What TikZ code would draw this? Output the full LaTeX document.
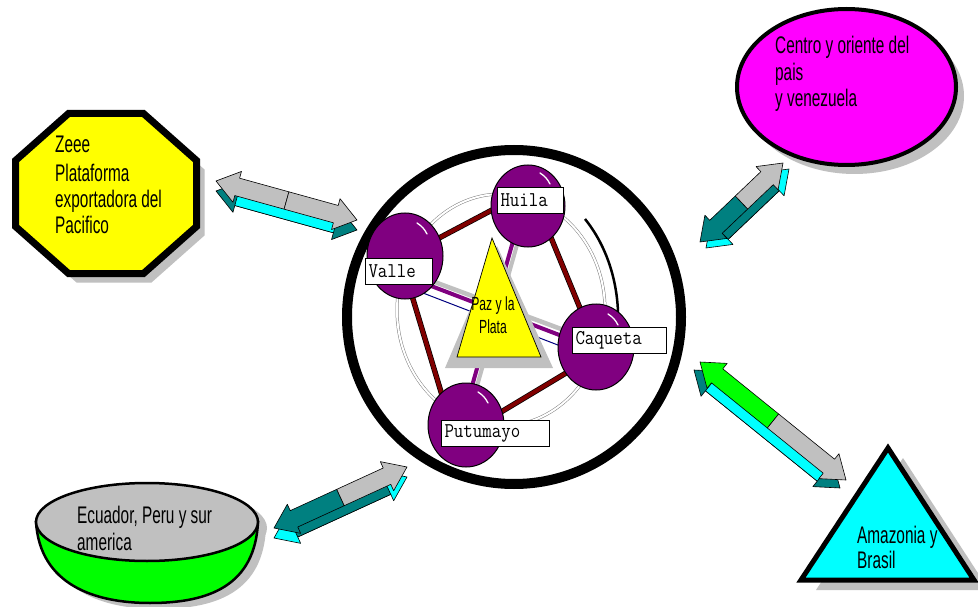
\documentclass[tikz,border=0pt]{standalone}
\usepackage{fontspec}
\usepackage{graphicx}
\newfontfamily\narrowfont[FakeStretch=0.64]{Liberation Sans}
\usetikzlibrary{calc,shapes.geometric}
\definecolor{yel}{HTML}{FFFF00}
\definecolor{mag}{HTML}{FF00FF}
\definecolor{shad}{HTML}{C0C0C0}
\definecolor{cyanc}{HTML}{00FFFF}
\definecolor{tealc}{HTML}{008080}
\definecolor{greenc}{HTML}{00FF00}
\definecolor{purp}{HTML}{800080}
\definecolor{maroonc}{HTML}{800000}
\definecolor{navyc}{HTML}{000080}
\newcommand\lbltext[1]{\scalebox{0.92}[1.05]{#1}}
\tikzset{
  arrowline/.style={draw=black, line width=0.6pt, line join=round},
  pcirc/.style={ellipse, draw=black, line width=1pt, fill=purp, inner sep=0pt},
  lbl/.style={draw=black, line width=1pt, fill=white, inner xsep=3pt, inner ysep=0pt,
    minimum height=26pt, anchor=north west, align=left, font=\fontsize{20}{20}\selectfont\ttfamily},
  edgem/.style={draw=black, double=maroonc, double distance=4pt, line width=0.7pt},
  bigtxt/.style={inner sep=0pt, anchor=north west, align=left, font=\fontsize{24}{26}\selectfont\narrowfont},
  hilite/.style={draw=white, line width=1.3pt, line cap=round},
}
\newcommand\blockarrow[7]{%
  \coordinate (ba-h1) at ($(#1)!22pt!(#2)$);
  \coordinate (ba-h2) at ($(#2)!22pt!(#1)$);
  \coordinate (ba-m) at ($(#1)!0.5!(#2)$);
  \coordinate (A1) at ($(ba-h1)!16pt!90:(#2)$);
  \coordinate (A2) at ($(ba-h1)!9pt!90:(#2)$);
  \coordinate (A3) at ($(ba-m)!9pt!90:(#2)$);
  \coordinate (A4) at ($(ba-h2)!9pt!-90:(#1)$);
  \coordinate (A5) at ($(ba-h2)!16pt!-90:(#1)$);
  \coordinate (B1) at ($(ba-h1)!16pt!-90:(#2)$);
  \coordinate (B2) at ($(ba-h1)!9pt!-90:(#2)$);
  \coordinate (B3) at ($(ba-m)!9pt!-90:(#2)$);
  \coordinate (B4) at ($(ba-h2)!9pt!90:(#1)$);
  \coordinate (B5) at ($(ba-h2)!16pt!90:(#1)$);
  \filldraw[fill=#6, arrowline] ($(#1)+#7$) -- ($(A1)+#7$) -- ($(A2)+#7$) -- ($(A4)+#7$) -- ($(A5)+#7$) -- ($(#2)+#7$) -- ($(B5)+#7$) -- ($(B4)+#7$) -- ($(B2)+#7$) -- ($(B1)+#7$) -- cycle;
  \filldraw[fill=#5, arrowline] ($(A2)+#7$) -- ($(A4)+#7$) -- ($(B4)+#7$) -- ($(B2)+#7$) -- cycle;
  \filldraw[fill=#3, arrowline] (#1) -- (A1) -- (A2) -- (A3) -- (B3) -- (B2) -- (B1) -- cycle;
  \filldraw[fill=#4, arrowline] (A3) -- (A4) -- (A5) -- (#2) -- (B5) -- (B4) -- (B3) -- cycle;
}
\begin{document}
\begin{tikzpicture}[x=1pt, y=-1pt]
\useasboundingbox[fill=white] (0,0) rectangle (978,607);

% ---------- Octagon (Zeee) ----------
\fill[shad] (151.5,122.5) -- (204.5,169.5) -- (204.5,235.5) -- (151.5,282.5) -- (76.5,282.5) -- (23.5,235.5) -- (23.5,169.5) -- (76.5,122.5) -- cycle;
\filldraw[fill=yel, draw=black, line width=7pt, line join=miter]
  (143.5,113.5) -- (196.5,160.5) -- (196.5,226.5) -- (143.5,273.5) -- (68.5,273.5) -- (15.5,226.5) -- (15.5,160.5) -- (68.5,113.5) -- cycle;
\node[bigtxt] (octtxt) at (55,136) {Zeee\\[3pt]Plataforma\\exportadora del\\Pacifico};

% ---------- Magenta ellipse ----------
\fill[shad] (854.5,96) ellipse[x radius=109.5pt, y radius=78pt];
\filldraw[fill=mag, draw=black, line width=4pt] (846.5,87) ellipse[x radius=109.5pt, y radius=78pt];
\node[bigtxt, font=\fontsize{24}{26.5}\selectfont\narrowfont] (centrotxt) at (775,36) {Centro y oriente del\\pais\\y venezuela};

% ---------- Bowl ----------
\fill[shad] (44,528) .. controls (48,591) and (103,609) .. (158,609) .. controls (218,609) and (263,591) .. (266,528) -- cycle;
\fill[shad] (155,528) ellipse[x radius=112pt, y radius=40pt];
\filldraw[fill=greenc, draw=black, line width=2.5pt] (36,522) .. controls (40,585) and (95,603) .. (150,603) .. controls (210,603) and (255,585) .. (258,522) -- cycle;
\filldraw[fill=shad, draw=black, line width=2.5pt] (147,522) ellipse[x radius=111pt, y radius=39pt];
\node[bigtxt, font=\fontsize{24}{27}\selectfont\narrowfont] (ecuadortxt) at (77,506) {Ecuador, Peru y sur\\america};

% ---------- Cyan triangle ----------
\fill[shad] (903,458) -- (816,590) -- (989,590) -- cycle;
\filldraw[fill=cyanc, draw=black, line width=5pt, line join=miter] (888,448) -- (801,580) -- (974,580) -- cycle;
\node[bigtxt, font=\fontsize{24}{25}\selectfont\narrowfont] (amazontxt) at (857,526) {Amazonia y\\Brasil};

% ---------- Big ring ----------
\draw[line width=10pt] (514,317) circle[radius=167pt];
\draw[gray, line width=0.5pt, double=white, double distance=2pt] (501,310) ellipse[x radius=104pt, y radius=116pt];
\draw[line width=2.5pt] (585,219) arc[start angle=45, end angle=-3, x radius=113pt, y radius=140pt];

% ---------- Purple node positions ----------
\coordinate (huilac) at (528,206);
\coordinate (vallec) at (405,256);
\coordinate (caquetac) at (596,347);
\coordinate (putumayoc) at (466,425);

% connectors behind the circles
\draw[purp, line width=4pt] ($(vallec)+(0,20)$) -- ($(caquetac)+(0,2)$);
\draw[shad, line width=4.5pt] ($(vallec)+(0,15)$) -- ($(caquetac)+(0,-5)$);
\draw[purp, line width=4pt] ($(huilac)+(-5,0)$) -- ($(putumayoc)+(-5,0)$);
\draw[shad, line width=4pt] (huilac) -- (putumayoc);
\draw[navyc, line width=1pt] ($(vallec)+(5,32)$) -- ($(caquetac)+(-20,5)$);

% central triangle
\fill[shad] (497,246) -- (445,368) -- (553,368) -- cycle;
\filldraw[fill=yel, draw=black, line width=0.7pt] (492,238) -- (457,357) -- (541,357) -- cycle;
\node[inner sep=0pt, anchor=north, align=center, font=\fontsize{19}{23}\selectfont\narrowfont] (paztxt) at (493,297) {Paz y la\\Plata};

% maroon connectors
\draw[edgem] (vallec) -- ($(huilac)+(0,-15)$);
\draw[edgem] ($(huilac)+(10,0)$) -- (caquetac);
\draw[edgem] ($(caquetac)+(0,8)$) -- ($(putumayoc)+(0,8)$);
\draw[edgem] ($(putumayoc)+(-15,0)$) -- ($(vallec)+(-5,0)$);

\node[pcirc, minimum width=74pt, minimum height=82pt] (huila) at (huilac) {};
\node[pcirc, minimum width=76pt, minimum height=86pt] (valle) at (vallec) {};
\node[pcirc, minimum width=76pt, minimum height=86pt] (caqueta) at (caquetac) {};
\node[pcirc, minimum width=76pt, minimum height=84pt] (putumayo) at (putumayoc) {};
\foreach \n in {huila,valle,caqueta,putumayo}{
  \draw[hilite] ($(\n.center)+(12,-33)$) to[bend left=15] ($(\n.center)+(22,-22)$);
}

% labels
\node[lbl, text width=60pt] (huilalbl) at (497,187) {\lbltext{Huila}};
\node[lbl, text width=61pt] (vallelbl) at (365,258) {\lbltext{Valle}};
\node[lbl, text width=88pt] (caqlbl) at (572,327) {\lbltext{Caqueta}};
\node[lbl, text width=102pt] (putlbl) at (441,420) {\lbltext{Putumayo}};

% ---------- Block arrows ----------
\coordinate (la-s) at (216,181);
\coordinate (la-e) at (357,220);
\blockarrow{la-s}{la-e}{shad}{shad}{cyanc}{tealc}{(0,10)}
\coordinate (ur-s) at (700,242);
\coordinate (ur-e) at (783,163);
\blockarrow{ur-s}{ur-e}{tealc}{shad}{tealc}{cyanc}{(6,6)}
\coordinate (ll-s) at (274,528);
\coordinate (ll-e) at (407,467);
\blockarrow{ll-s}{ll-e}{tealc}{shad}{tealc}{cyanc}{(0,10)}
\coordinate (lr-s) at (700,362);
\coordinate (lr-e) at (846,480);
\blockarrow{lr-s}{lr-e}{greenc}{shad}{cyanc}{tealc}{(-6,8)}
\end{tikzpicture}
\end{document}
